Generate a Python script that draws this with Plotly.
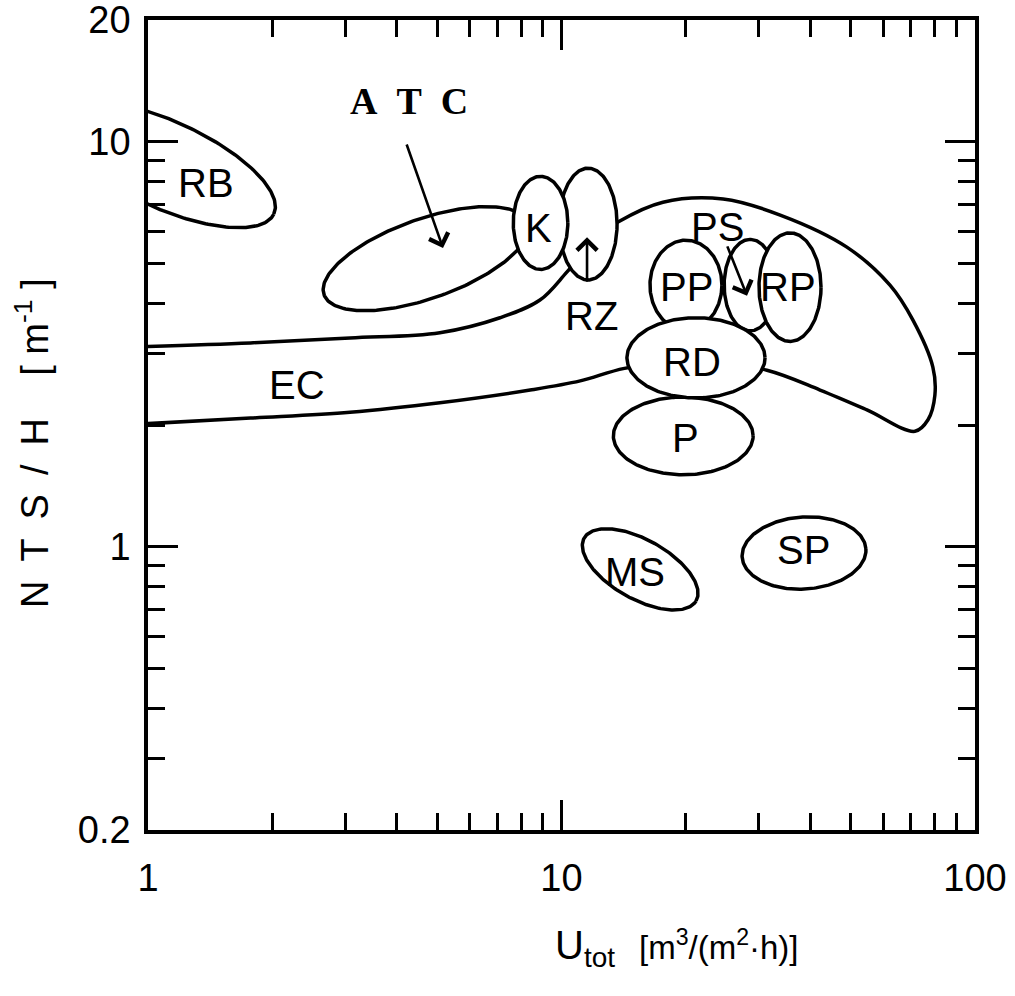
import numpy as np
import plotly.graph_objects as go

# ---------------------------------------------------------------------------
# Data: operating regions of the processes, NTS/H versus total hydraulic load
# ---------------------------------------------------------------------------

# Outline of the EC band (Utot [m3/(m2 h)], NTS/H [1/m]), traced clockwise
ec_u = [0.95, 1.77, 3.08, 5.08, 7.1, 8.87, 10.3, 12.0, 13.7, 17.6, 24.6, 33.8,
        49.0, 62.3, 70.8, 79.1, 80.0, 77.0, 71.6, 54.8, 42.2, 31.4, 21.0, 14.2,
        11.1, 8.4, 5.08, 3.08, 1.77, 0.95]
ec_nts = [3.12, 3.19, 3.28, 3.38, 3.68, 4.07, 4.77, 5.73, 6.34, 7.1, 7.23, 6.6,
          5.5, 4.43, 3.63, 2.78, 2.37, 2.06, 1.93, 2.18, 2.44, 2.73, 2.9, 2.76,
          2.57, 2.44, 2.27, 2.15, 2.08, 2.01]

# Elliptical regions: centre (Utot, NTS/H), half-spans in decades, tilt (deg).
# Listed in drawing order (later regions lie over earlier ones).
region_names = ["RB", "ATC", "RZ", "K", "PP", "PS", "RP", "P", "RD", "MS", "SP"]
region_u = [1.10, 4.70, 11.6, 8.9, 20.0, 28.6, 35.7, 19.7, 21.15, 15.5, 38.6]
region_nts = [8.8, 5.15, 6.27, 6.31, 4.43, 4.43, 4.38, 1.88, 2.93, 0.88, 0.966]
region_half_u = [0.290, 0.262, 0.070, 0.066, 0.087, 0.063, 0.075, 0.169, 0.167, 0.156, 0.150]
region_half_nts = [0.107, 0.098, 0.138, 0.115, 0.111, 0.113, 0.134, 0.096, 0.099, 0.073, 0.089]
region_tilt = [-25, 20, 0, 0, 0, 0, 0, 0, 0, -30, 4]

# Region labels
label_text = ["RB", "K", "PP", "RP", "RD", "P", "MS", "SP", "EC", "RZ", "PS"]
label_u = [1.38, 8.78, 20.1, 35.3, 20.7, 19.9, 15.1, 38.4, 2.29, 11.85, 23.9]
label_nts = [7.92, 6.13, 4.38, 4.38, 2.86, 1.86, 0.867, 0.983, 2.51, 3.72, 6.17]

# Pointer arrows: (tail Utot, tail NTS/H) -> (head Utot, head NTS/H)
arrow_tail_u = [4.21, 11.53, 25.1]
arrow_tail_nts = [9.94, 4.48, 5.57]
arrow_head_u = [5.17, 11.53, 28.1]
arrow_head_nts = [5.47, 5.82, 4.17]

atc_label_u, atc_label_nts = 4.28, 12.6

x_tickvals = [1, 10, 100]
x_ticktext = ["1", "10", "100"]
x_minor = [2, 3, 4, 5, 6, 7, 8, 9, 20, 30, 40, 50, 60, 70, 80, 90]
y_tickvals = [0.2, 1, 10, 20]
y_ticktext = ["0.2", "1", "10", "20"]
y_minor = [0.3, 0.4, 0.5, 0.6, 0.7, 0.8, 0.9, 2, 3, 4, 5, 6, 7, 8, 9]

SANS = "Liberation Sans"
SERIF = "Liberation Serif"
LW = 3.5
NB = "\u00a0"
GAP = "\u2002"


def ellipse_outline(uc, nc, hu, hn, tilt_deg, n=240):
    """Closed ellipse in log-log space around (uc, nc)."""
    t = np.linspace(0, 2 * np.pi, n)
    phi = np.deg2rad(tilt_deg)
    lu = np.log10(uc) + hu * np.cos(t) * np.cos(phi) - hn * np.sin(t) * np.sin(phi)
    ln = np.log10(nc) + hu * np.cos(t) * np.sin(phi) + hn * np.sin(t) * np.cos(phi)
    return 10 ** lu, 10 ** ln


fig = go.Figure()

# EC band outline
fig.add_trace(go.Scatter(
    x=ec_u, y=ec_nts, mode="lines",
    line=dict(color="black", width=LW, shape="spline", smoothing=1.0),
    hoverinfo="skip", showlegend=False,
))

# Elliptical regions, white-filled so that overlaps hide the lines beneath
for name, uc, nc, hu, hn, tilt in zip(region_names, region_u, region_nts,
                                      region_half_u, region_half_nts, region_tilt):
    xs, ys = ellipse_outline(uc, nc, hu, hn, tilt)
    fig.add_trace(go.Scatter(
        x=xs, y=ys, mode="lines", fill="toself", fillcolor="white",
        line=dict(color="black", width=LW), name=name,
        hoverinfo="skip", showlegend=False,
    ))

annotations = []
for txt, u, n in zip(label_text, label_u, label_nts):
    annotations.append(dict(
        x=np.log10(u), y=np.log10(n), xref="x", yref="y", text=txt,
        showarrow=False, font=dict(family=SANS, size=40, color="black"),
        xanchor="center", yanchor="middle",
    ))

annotations.append(dict(
    x=np.log10(atc_label_u), y=np.log10(atc_label_nts), xref="x", yref="y",
    text="<b>A\u2002T\u2002C</b>", showarrow=False,
    font=dict(family=SERIF, size=38, color="black"),
    xanchor="center", yanchor="middle",
))

for tu, tn, hu_, hn_ in zip(arrow_tail_u, arrow_tail_nts, arrow_head_u, arrow_head_nts):
    annotations.append(dict(
        x=np.log10(hu_), y=np.log10(hn_), ax=np.log10(tu), ay=np.log10(tn),
        xref="x", yref="y", axref="x", ayref="y", text="",
        showarrow=True, arrowhead=4, arrowsize=1.5, arrowwidth=2.6,
        arrowcolor="black",
    ))

# Axis titles
annotations.append(dict(
    x=0.529, y=-0.146, xref="paper", yref="paper",
    text="U<sub>tot</sub>",
    showarrow=False, font=dict(family=SANS, size=40, color="black"),
    xanchor="center", yanchor="middle",
))
annotations.append(dict(
    x=0.691, y=-0.142, xref="paper", yref="paper",
    text="[m<sup>3</sup>/(m<sup>2</sup>·h)]",
    showarrow=False, font=dict(family=SANS, size=33, color="black"),
    xanchor="center", yanchor="middle",
))
annotations.append(dict(
    x=-0.140, y=0.478, xref="paper", yref="paper",
    text=GAP.join(["N", "T", "S", "/", "H"]) + NB * 4 + "[" + NB + "m<sup>-1</sup>" + NB + "]",
    textangle=-90,
    showarrow=False, font=dict(family=SANS, size=38, color="black"),
    xanchor="center", yanchor="middle",
))

axis_common = dict(
    type="log", showgrid=False, zeroline=False, automargin=False,
    showline=True, linewidth=3.5, linecolor="black", mirror="ticks",
    ticks="inside", ticklen=30, tickwidth=3, tickcolor="black",
    tickfont=dict(family=SANS, size=38, color="black"),
    ticklabeloverflow="allow",
)

fig.update_layout(
    width=1015, height=996,
    margin=dict(l=148, r=40, t=20, b=166, autoexpand=False),
    paper_bgcolor="white", plot_bgcolor="white",
    xaxis=dict(
        **axis_common, range=[0, 2.0001],
        tickmode="array", tickvals=x_tickvals, ticktext=x_ticktext,
        ticklabelstandoff=12,
        minor=dict(tickmode="array", tickvals=x_minor, ticks="inside",
                   ticklen=17, tickwidth=3, tickcolor="black", showgrid=False),
    ),
    yaxis=dict(
        **axis_common, range=[np.log10(0.2) - 0.0001, np.log10(20) + 0.0001],
        tickmode="array", tickvals=y_tickvals, ticktext=y_ticktext,
        ticklabelstandoff=6,
        minor=dict(tickmode="array", tickvals=y_minor, ticks="inside",
                   ticklen=17, tickwidth=3, tickcolor="black", showgrid=False),
    ),
    annotations=annotations,
)

fig.write_html("out.html")
